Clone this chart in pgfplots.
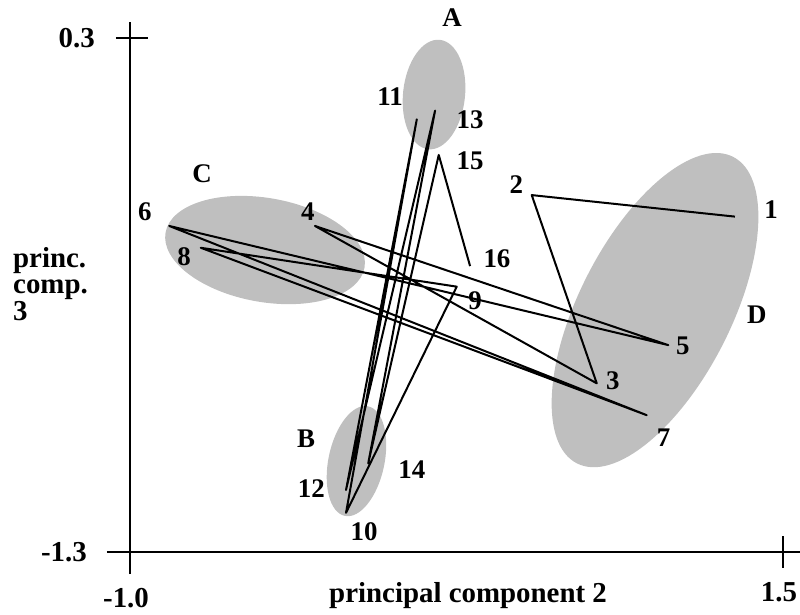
\documentclass[border=0pt]{standalone}
\usepackage{fontspec}
\setmainfont{Liberation Serif}
\usepackage{pgfplots}
\pgfplotsset{compat=1.18}
\usetikzlibrary{shapes.geometric}

\tikzset{
  lbl/.style={font=\bfseries\fontsize{27}{27}\selectfont, inner sep=0pt},
  tl/.style={font=\bfseries\fontsize{29}{26.7}\selectfont, inner sep=0pt},
  grp/.style={ellipse, fill=black!25, draw=none, inner sep=0pt},
}

\begin{document}
\begin{tikzpicture}
\begin{axis}[
  scale only axis,
  width=693bp, height=552bp,
  xmin=-1.0881, xmax=1.5651,
  ymin=-1.3685, ymax=0.3498,
  hide axis, clip=false,
]
% groups
\node[grp, minimum width=62bp, minimum height=110bp, rotate=-6] at (axis cs:0.164,0.124) {};
\node[grp, minimum width=56bp, minimum height=112bp, rotate=-12] at (axis cs:-0.133,-1.017) {};
\node[grp, minimum width=202bp, minimum height=104bp, rotate=-10] at (axis cs:-0.483,-0.360) {};
\node[grp, minimum width=152bp, minimum height=344bp, rotate=-27] at (axis cs:1.010,-0.547) {};

% frame
\draw[line width=2.2bp] (axis cs:-1,-1.3685) -- (axis cs:-1,0.3498);
\draw[line width=2.2bp] (axis cs:-1.0881,-1.3) -- (axis cs:1.5651,-1.3);
\draw[line width=2.2bp] ([xshift=-14bp]axis cs:-1,0.3) -- ([xshift=18bp]axis cs:-1,0.3);
\draw[line width=2.2bp] ([yshift=16bp]axis cs:1.5,-1.3) -- ([yshift=-16bp]axis cs:1.5,-1.3);

% trajectory 1..16
\addplot[black, line width=2bp, line join=round, mark=none] coordinates {
  (1.316,-0.256) (0.538,-0.189) (0.787,-0.775) (-0.292,-0.285)
  (1.061,-0.656) (-0.850,-0.285) (0.978,-0.874) (-0.729,-0.353)
  (0.251,-0.474) (-0.173,-1.178) (0.098,0.047) (-0.173,-1.107)
  (0.168,0.074) (-0.088,-1.024) (0.182,-0.064) (0.302,-0.410)
};

% point labels
\node[lbl] at (axis cs:1.454,-0.235) {1};
\node[lbl] at (axis cs:0.479,-0.157) {2};
\node[lbl] at (axis cs:0.849,-0.768) {3};
\node[lbl] at (axis cs:-0.319,-0.242) {4};
\node[lbl] at (axis cs:1.117,-0.659) {5};
\node[lbl] at (axis cs:-0.943,-0.242) {6};
\node[lbl] at (axis cs:1.043,-0.945) {7};
\node[lbl] at (axis cs:-0.793,-0.382) {8};
\node[lbl] at (axis cs:0.321,-0.519) {9};
\node[lbl] at (axis cs:-0.104,-1.238) {10};
\node[lbl] at (axis cs:-0.004,0.116) {11};
\node[lbl] at (axis cs:-0.306,-1.104) {12};
\node[lbl] at (axis cs:0.302,0.045) {13};
\node[lbl] at (axis cs:0.079,-1.045) {14};
\node[lbl] at (axis cs:0.302,-0.083) {15};
\node[lbl] at (axis cs:0.405,-0.388) {16};
\node[lbl] at (axis cs:0.233,0.362) {A};
\node[lbl] at (axis cs:-0.326,-0.948) {B};
\node[lbl] at (axis cs:-0.724,-0.123) {C};
\node[lbl] at (axis cs:1.400,-0.562) {D};

% ticks and titles
\node[tl, anchor=east, xshift=-35bp] at (axis cs:-1,0.3) {0.3};
\node[tl, anchor=east, xshift=-43bp] at (axis cs:-1,-1.3) {-1.3};
\node[tl, anchor=north, xshift=-4bp, yshift=-36bp] at (axis cs:-1,-1.3) {-1.0};
\node[tl, anchor=north, xshift=-4bp, yshift=-30bp] at (axis cs:1.5,-1.3) {1.5};
\node[tl, anchor=base west] at (axis cs:-0.238,-1.456) {principal component 2};
\node[tl, anchor=base west] at (axis cs:-1.448,-0.413)
  {\begin{tabular}[t]{@{}l@{}}princ.\\comp.\\3\end{tabular}};

\coordinate (bbsw) at (axis cs:-1.4977,-1.4930);
\coordinate (bbne) at (axis cs:1.5651,0.4183);
\end{axis}
\pgfresetboundingbox
\path[use as bounding box] (bbsw) rectangle (bbne);
\end{tikzpicture}
\end{document}
